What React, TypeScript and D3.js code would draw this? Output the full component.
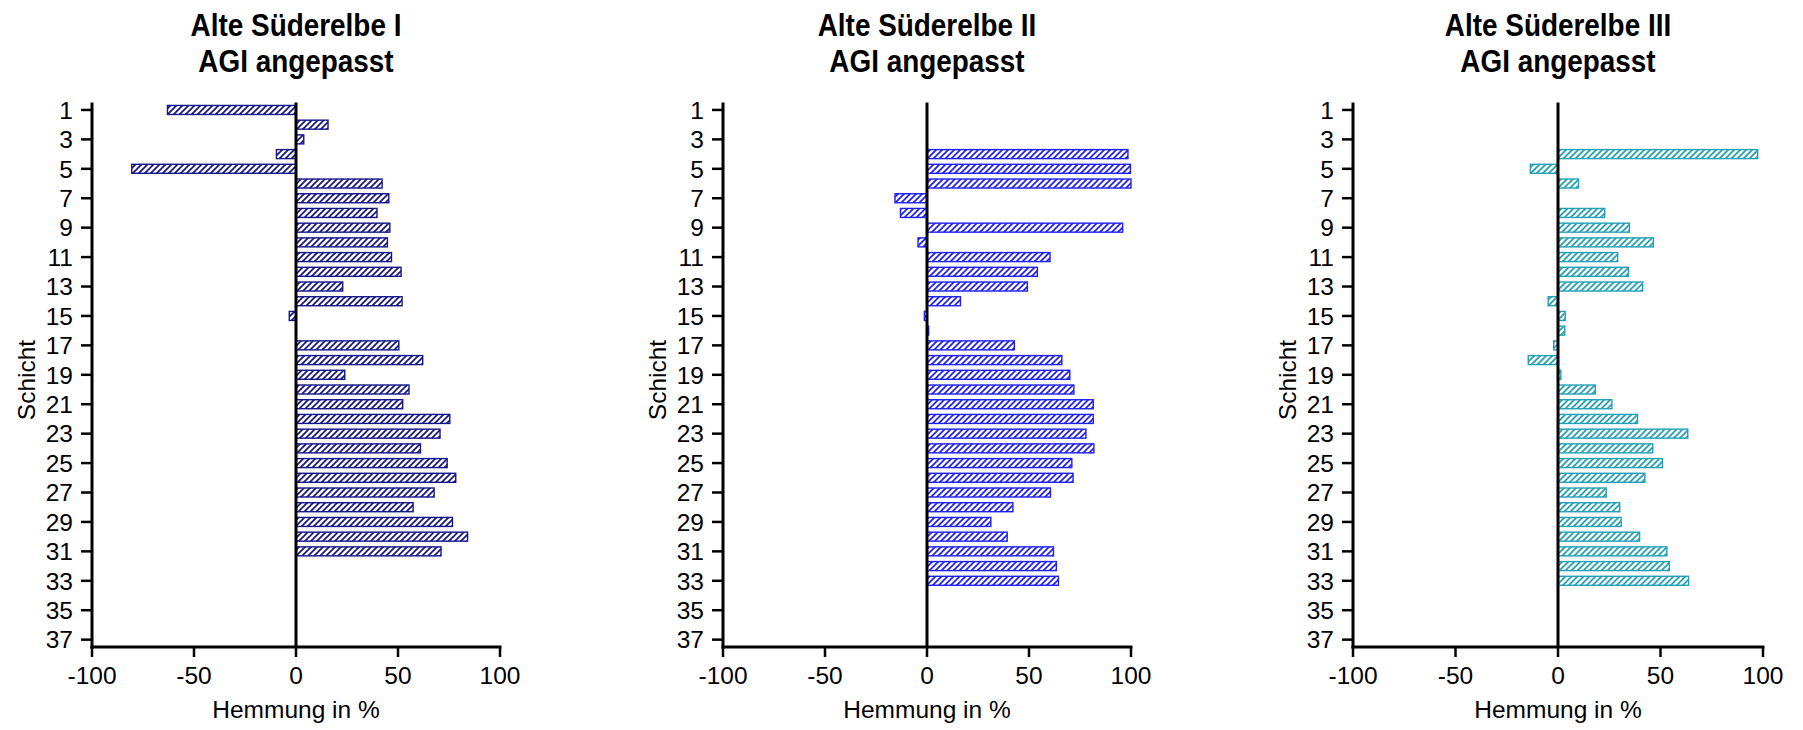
import React from "react";
import * as d3 from "d3";

const schichten = [
  1, 2, 3, 4, 5, 6, 7, 8, 9, 10, 11, 12, 13, 14, 15, 16, 17, 18, 19, 20, 21, 22, 23, 24, 25, 26, 27, 28, 29, 30, 31, 32, 33, 34, 35, 36, 37,
];
const yTickLabels = [1, 3, 5, 7, 9, 11, 13, 15, 17, 19, 21, 23, 25, 27, 29, 31, 33, 35, 37];
const xTickLabels = [-100, -50, 0, 50, 100];

const titles1 = ["Alte Süderelbe I", "AGI angepasst"];
const titles2 = ["Alte Süderelbe II", "AGI angepasst"];
const titles3 = ["Alte Süderelbe III", "AGI angepasst"];

const valuesI: (number | null)[] = [
  -63, 15.7, 3.8, -9.6, -80.5, 42.2, 45.5, 39.7, 46, 44.8, 46.8, 51.5, 22.9, 52, -3.3, null, 50.4, 62.1, 23.9, 55.4,
  52.3, 75.4, 70.6, 61, 74.1, 78.3, 67.7, 57.4, 76.7, 84.1, 71.1, null, null, null, null, null, null,
];
const valuesII: (number | null)[] = [
  null, null, null, 98.5, 99.7, 100, -15.7, -13, 95.9, -4.4, 60.3, 54.1, 49.2, 16.4, -1.3, 0.8, 42.8, 66.1, 70, 72,
  81.5, 81.5, 77.9, 81.8, 71, 71.6, 60.5, 42.1, 31.3, 39.3, 62, 63.4, 64.4, null, null, null, null,
];
const valuesIII: (number | null)[] = [
  null, null, null, 97.4, -13.5, 10, null, 22.8, 34.8, 46.5, 29.1, 34.3, 41.3, -4.8, 3.5, 3.3, -2.1, -14.5, 1.4, 18.2,
  26.3, 38.8, 63.3, 46.2, 50.9, 42.4, 23.5, 30.1, 30.8, 39.8, 53.1, 54.3, 63.7, null, null, null, null,
];

const panels = [
  { id: "p1", titles: titles1, values: valuesI, color: "#15158a", left: 92, width: 408 },
  { id: "p2", titles: titles2, values: valuesII, color: "#1f1ff5", left: 723, width: 408 },
  { id: "p3", titles: titles3, values: valuesIII, color: "#22a0b6", left: 1353, width: 410 },
];

const FONT = "Arial, 'Liberation Sans', Helvetica, sans-serif";
const TOP = 102.6;
const BOTTOM = 647;

function Panel({ p }: { p: (typeof panels)[number] }) {
  const x = d3.scaleLinear().domain([-100, 100]).range([p.left, p.left + p.width]);
  const y = d3.scaleLinear().domain([0.5, 37.5]).range([TOP, BOTTOM]);
  const barH = 9;
  const cx = (x(-100) + x(100)) / 2;
  const patId = "hatch-" + p.id;
  return (
    <g>
      <defs>
        <pattern id={patId} patternUnits="userSpaceOnUse" width={6} height={6}>
          <rect width={6} height={6} fill="white" />
          <path d="M0,6 L6,0 M-2,2 L2,-2 M4,8 L8,4" stroke={p.color} strokeWidth={1.7} />
        </pattern>
      </defs>
      {/* title */}
      <g transform={`translate(${cx},0) scale(0.9,1)`}>
        <text x={0} y={36} textAnchor="middle" fontFamily={FONT} fontWeight="bold" fontSize={31} fill="#000">
          {p.titles[0]}
        </text>
        <text x={0} y={72} textAnchor="middle" fontFamily={FONT} fontWeight="bold" fontSize={31} fill="#000">
          {p.titles[1]}
        </text>
      </g>
      {/* bars */}
      {schichten.map((s, i) => {
        const v = p.values[i];
        if (v === null || v === undefined) return null;
        const x0 = x(Math.min(0, v));
        const x1 = x(Math.max(0, v));
        return (
          <rect
            key={s}
            x={x0}
            y={y(s) - barH / 2}
            width={Math.max(1, x1 - x0)}
            height={barH}
            fill={`url(#${patId})`}
            stroke={p.color}
            strokeWidth={1.4}
          />
        );
      })}
      {/* zero line */}
      <line x1={x(0)} x2={x(0)} y1={TOP} y2={BOTTOM} stroke="#000" strokeWidth={3} />
      {/* y axis */}
      <line x1={x(-100)} x2={x(-100)} y1={TOP} y2={BOTTOM + 1.5} stroke="#000" strokeWidth={3} />
      {yTickLabels.map((t) => (
        <g key={t}>
          <line x1={x(-100) - 11} x2={x(-100)} y1={y(t)} y2={y(t)} stroke="#000" strokeWidth={2.5} />
          <text
            x={x(-100) - 19}
            y={y(t)}
            dy="0.36em"
            textAnchor="end"
            fontFamily={FONT}
            fontSize={24.5}
            fill="#000"
          >
            {t}
          </text>
        </g>
      ))}
      {/* x axis */}
      <line x1={x(-100) - 1.5} x2={x(100) + 1.5} y1={BOTTOM} y2={BOTTOM} stroke="#000" strokeWidth={3} />
      {xTickLabels.map((t) => (
        <g key={t}>
          <line x1={x(t)} x2={x(t)} y1={BOTTOM} y2={BOTTOM + 10} stroke="#000" strokeWidth={2.5} />
          <text x={x(t)} y={684} textAnchor="middle" fontFamily={FONT} fontSize={24.5} fill="#000">
            {t}
          </text>
        </g>
      ))}
      <text x={cx} y={718} textAnchor="middle" fontFamily={FONT} fontSize={24.5} fill="#000">
        Hemmung in %
      </text>
      <text
        transform={`translate(${x(-100) - 57},${380}) rotate(-90)`}
        textAnchor="middle"
        fontFamily={FONT}
        fontSize={24.5}
        fill="#000"
      >
        Schicht
      </text>
    </g>
  );
}

export default function App() {
  return (
    <svg
      width={1803}
      height={730}
      style={{ position: "absolute", left: 0, top: 0, background: "#fff" }}
    >
      <rect width={1803} height={730} fill="#fff" />
      {panels.map((p) => (
        <Panel key={p.id} p={p} />
      ))}
    </svg>
  );
}
